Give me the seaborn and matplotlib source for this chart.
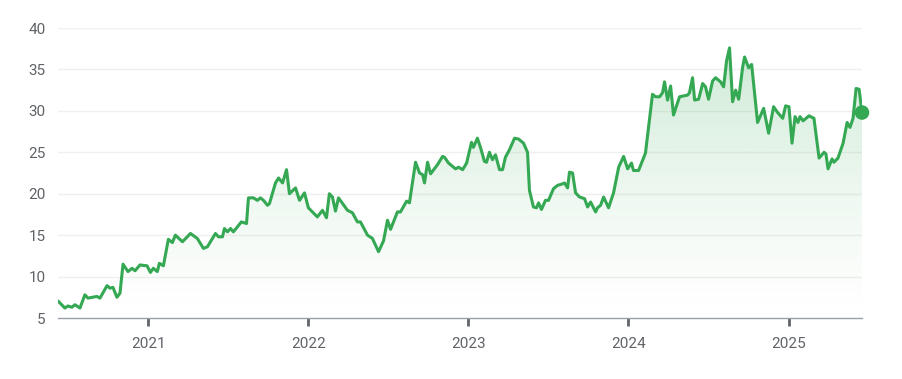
import pandas as pd
import seaborn as sns
import matplotlib.pyplot as plt
import numpy as np
from matplotlib.colors import to_rgb

# price trace (decimal year, value)
years = [
    2020.438, 2020.481, 2020.500, 2020.525, 2020.544, 2020.575, 2020.606, 2020.625,
    2020.681, 2020.700, 2020.744, 2020.763, 2020.781, 2020.806, 2020.825, 2020.844,
    2020.875, 2020.900, 2020.919, 2020.950, 2020.994, 2021.013, 2021.031, 2021.056,
    2021.069, 2021.094, 2021.125, 2021.150, 2021.169, 2021.213, 2021.263, 2021.306,
    2021.344, 2021.369, 2021.419, 2021.438, 2021.463, 2021.475, 2021.494, 2021.513,
    2021.531, 2021.581, 2021.613, 2021.625, 2021.656, 2021.681, 2021.700, 2021.719,
    2021.744, 2021.756, 2021.794, 2021.813, 2021.838, 2021.863, 2021.881, 2021.919,
    2021.944, 2021.975, 2022.000, 2022.056, 2022.088, 2022.113, 2022.131, 2022.150,
    2022.169, 2022.188, 2022.244, 2022.275, 2022.306, 2022.325, 2022.369, 2022.400,
    2022.438, 2022.469, 2022.494, 2022.513, 2022.556, 2022.575, 2022.613, 2022.631,
    2022.669, 2022.694, 2022.713, 2022.725, 2022.744, 2022.763, 2022.806, 2022.838,
    2022.850, 2022.875, 2022.919, 2022.938, 2022.963, 2022.988, 2023.019, 2023.031,
    2023.056, 2023.075, 2023.100, 2023.113, 2023.131, 2023.150, 2023.169, 2023.194,
    2023.213, 2023.231, 2023.256, 2023.288, 2023.313, 2023.344, 2023.369, 2023.381,
    2023.406, 2023.425, 2023.438, 2023.456, 2023.481, 2023.500, 2023.531, 2023.556,
    2023.588, 2023.600, 2023.619, 2023.631, 2023.650, 2023.669, 2023.694, 2023.725,
    2023.744, 2023.763, 2023.794, 2023.806, 2023.825, 2023.844, 2023.875, 2023.906,
    2023.938, 2023.969, 2023.994, 2024.019, 2024.031, 2024.063, 2024.106, 2024.125,
    2024.150, 2024.169, 2024.194, 2024.213, 2024.225, 2024.244, 2024.263, 2024.281,
    2024.319, 2024.369, 2024.381, 2024.400, 2024.413, 2024.438, 2024.463, 2024.481,
    2024.500, 2024.525, 2024.544, 2024.575, 2024.594, 2024.613, 2024.631, 2024.650,
    2024.669, 2024.688, 2024.713, 2024.725, 2024.750, 2024.769, 2024.806, 2024.844,
    2024.875, 2024.906, 2024.931, 2024.963, 2024.981, 2025.000, 2025.019, 2025.038,
    2025.056, 2025.069, 2025.088, 2025.125, 2025.156, 2025.188, 2025.219, 2025.231,
    2025.244, 2025.269, 2025.281, 2025.306, 2025.338, 2025.363, 2025.381, 2025.400,
    2025.419, 2025.438, 2025.456,
]
prices = [
    7.05, 6.2, 6.45, 6.3, 6.6, 6.2, 7.8, 7.4,
    7.6, 7.4, 8.9, 8.6, 8.7, 7.5, 8.0, 11.5,
    10.6, 11.0, 10.7, 11.4, 11.3, 10.5, 11.0, 10.6,
    11.6, 11.3, 14.5, 14.1, 15.0, 14.2, 15.2, 14.6,
    13.4, 13.6, 15.2, 14.8, 14.8, 15.8, 15.4, 15.8,
    15.4, 16.6, 16.4, 19.5, 19.5, 19.2, 19.5, 19.2,
    18.6, 18.8, 21.3, 21.9, 21.3, 22.9, 20.0, 20.7,
    19.2, 20.1, 18.3, 17.2, 18.0, 17.1, 20.0, 19.6,
    17.9, 19.5, 18.0, 17.7, 16.6, 16.6, 15.0, 14.6,
    13.0, 14.3, 16.8, 15.7, 17.8, 17.8, 19.1, 18.9,
    23.8, 22.5, 22.3, 21.3, 23.8, 22.4, 23.5, 24.5,
    24.4, 23.7, 23.0, 23.2, 22.9, 23.7, 26.2, 25.6,
    26.7, 25.6, 23.9, 23.8, 25.0, 24.1, 24.7, 22.9,
    22.9, 24.4, 25.3, 26.7, 26.6, 26.1, 25.0, 20.4,
    18.4, 18.3, 18.9, 18.1, 19.2, 19.2, 20.6, 21.0,
    21.2, 21.3, 20.7, 22.6, 22.5, 20.1, 19.6, 19.4,
    18.4, 19.0, 17.8, 18.3, 18.6, 19.6, 18.3, 20.1,
    23.2, 24.5, 23.0, 23.7, 22.8, 22.8, 24.9, 28.0,
    32.0, 31.7, 31.7, 32.2, 33.5, 31.3, 33.0, 29.5,
    31.7, 31.9, 32.2, 34.0, 31.3, 31.4, 33.3, 32.9,
    31.4, 33.6, 34.0, 33.5, 32.9, 36.1, 37.6, 31.1,
    32.5, 31.4, 35.3, 36.5, 35.2, 35.6, 28.6, 30.3,
    27.3, 30.5, 29.8, 29.1, 30.6, 30.5, 26.1, 29.3,
    28.6, 29.3, 28.8, 29.4, 29.1, 24.3, 25.0, 24.8,
    23.0, 24.2, 23.8, 24.3, 26.1, 28.6, 28.0, 29.1,
    32.7, 32.6, 29.8,
]
year_ticks = [2021, 2022, 2023, 2024, 2025]
value_ticks = [5, 10, 15, 20, 25, 30, 35, 40]


def to_date(y):
    base = pd.Timestamp(f"{int(y)}-01-01")
    return base + pd.Timedelta(days=(y - int(y)) * 365.25)


df = pd.DataFrame({"date": [to_date(y) for y in years], "price": prices})
green = "#34a853"
grey_text = "#5f6368"

sns.set_theme(style="white")
plt.rcParams["font.family"] = ["Roboto", "DejaVu Sans"]

fig = plt.figure(figsize=(9.03, 3.79), dpi=100)
ax = fig.add_axes([58 / 903, 61 / 379, 804 / 903, 290 / 379])

sns.lineplot(data=df, x="date", y="price", color=green, linewidth=2.2, ax=ax,
             solid_joinstyle="round", solid_capstyle="round", zorder=4)

# gradient fill under the line
x0, x1 = df["date"].min(), df["date"].max()
poly = ax.fill_between(df["date"], df["price"], 5, color="none", lw=0)
rgb = to_rgb(green)
grad = np.zeros((256, 1, 4))
grad[:, 0, :3] = rgb
grad[:, 0, 3] = np.linspace(0.0, 0.26, 256) ** 1.3 / 0.26 ** 0.3
img = ax.imshow(grad, origin="lower", aspect="auto",
                extent=[x0, x1, 5, 40], zorder=2, interpolation="bicubic")
img.set_clip_path(poly.get_paths()[0], transform=ax.transData)

ax.scatter([df["date"].iloc[-1]], [df["price"].iloc[-1]], s=110, color=green,
           zorder=5, clip_on=False, edgecolor="none")

ax.set_xlim(x0, x1)
ax.set_ylim(5, 40)
ax.set_yticks(value_ticks)
ax.set_xticks([pd.Timestamp(f"{y}-01-01") for y in year_ticks])
ax.set_xticklabels([str(y) for y in year_ticks])
for v in value_ticks[1:]:
    ax.axhline(v, color="#efefef", lw=1, zorder=1)

for s in ["top", "right", "left"]:
    ax.spines[s].set_visible(False)
ax.spines["bottom"].set_color("#9aa0a6")
ax.spines["bottom"].set_linewidth(1)
ax.tick_params(axis="x", bottom=True, length=6, width=2, color="#5f6368", pad=8,
               labelsize=11, labelcolor=grey_text, direction="out")
ax.tick_params(axis="y", left=False, length=0, pad=9, labelsize=11,
               labelcolor=grey_text)
ax.set_xlabel("")
ax.set_ylabel("")
ax.grid(False)

fig.savefig("out.png", dpi=100)
